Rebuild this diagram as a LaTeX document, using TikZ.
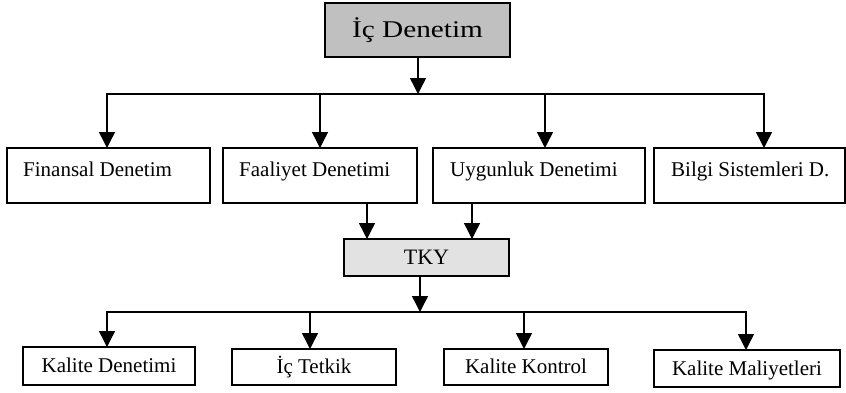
\documentclass[tikz,border=0pt]{standalone}
\usepackage{fontspec}
\setmainfont{Liberation Serif}
\usetikzlibrary{arrows.meta,calc}
\definecolor{topgray}{RGB}{192,192,192}
\definecolor{tkygray}{RGB}{226,226,226}
\begin{document}
\begin{tikzpicture}[x=1pt,y=-1pt,
  box/.style={draw, line width=2pt, inner sep=0pt, outer sep=0pt},
  conn/.style={line width=1.4pt},
  arr/.style={conn, -{Triangle[width=16pt,length=16pt]}},
  lbl/.style={font=\fontsize{21}{25}\selectfont, inner sep=0pt},
  cbox/.style={box, font=\fontsize{21}{25}\selectfont, text height=13.9pt, text depth=0pt}
]
\useasboundingbox (0,0) rectangle (846,392);

% top box
\node[box, fill=topgray, minimum width=185pt, minimum height=54pt,
      font=\fontsize{24}{28}\selectfont, text height=15.8pt, text depth=0pt]
      (ic) at (417.5,30) {\scalebox{1.22}[1]{İç Denetim}};

% second row boxes
\node[box, minimum width=203pt, minimum height=55pt] (fin) at (108.5,175.5) {};
\node[box, minimum width=194pt, minimum height=55pt] (fal) at (320,175.5) {};
\node[box, minimum width=212pt, minimum height=55pt] (uyg) at (539,175.5) {};
\node[box, minimum width=191pt, minimum height=55pt] (bil) at (749.5,175.5) {};

\node[lbl, anchor=base west] (fint) at ([xshift=16pt,yshift=-0.5pt]fin.west) {Finansal Denetim};
\node[lbl, anchor=base west] (falt) at ([xshift=16pt,yshift=-0.5pt]fal.west) {Faaliyet Denetimi};
\node[lbl, anchor=base west] (uygt) at ([xshift=17pt,yshift=-0.5pt]uyg.west) {Uygunluk Denetimi};
\node[lbl, anchor=base west] (bilt) at ([xshift=17pt,yshift=-0.5pt]bil.west) {Bilgi Sistemleri D.};

% TKY
\node[cbox, fill=tkygray, minimum width=165pt, minimum height=37pt,
      font=\fontsize{22}{26}\selectfont, text height=14.5pt] (tky) at (426.5,257.5) {TKY};

% bottom row
\node[cbox, minimum width=172pt, minimum height=38pt] (kd) at (109,366) {Kalite Denetimi};
\node[cbox, minimum width=164pt, minimum height=36pt] (it) at (314,367) {İç Tetkik};
\node[cbox, minimum width=164pt, minimum height=36pt] (kk) at (526,367) {Kalite Kontrol};
\node[cbox, minimum width=186pt, minimum height=37pt] (km) at (747,368.5) {Kalite Maliyetleri};

% top bus
\coordinate (bus1) at (418,94);
\coordinate (b1a) at (107,94);
\coordinate (b1b) at (320,94);
\coordinate (b1c) at (545,94);
\coordinate (b1d) at (764,94);
\draw[arr] (ic.south -| bus1) -- (bus1);
\draw[conn, line cap=rect] (b1a) -- (b1d);
\draw[arr] (b1a) -- (b1a |- fin.north);
\draw[arr] (b1b) -- (b1b |- fal.north);
\draw[arr] (b1c) -- (b1c |- uyg.north);
\draw[arr] (b1d) -- (b1d |- bil.north);

% into TKY
\coordinate (t1) at (367,0);
\coordinate (t2) at (472,0);
\draw[arr] (fal.south -| t1) -- (tky.north -| t1);
\draw[arr] (uyg.south -| t2) -- (tky.north -| t2);

% bottom bus
\coordinate (bus2) at (420,312);
\coordinate (b2a) at (107,312);
\coordinate (b2b) at (310,312);
\coordinate (b2c) at (524,312);
\coordinate (b2d) at (746,312);
\draw[arr] (tky.south -| bus2) -- (bus2);
\draw[conn, line cap=rect] (b2a) -- (b2d);
\draw[arr] (b2a) -- (b2a |- kd.north);
\draw[arr] (b2b) -- (b2b |- it.north);
\draw[arr] (b2c) -- (b2c |- kk.north);
\draw[arr] (b2d) -- (b2d |- km.north);
\end{tikzpicture}
\end{document}
